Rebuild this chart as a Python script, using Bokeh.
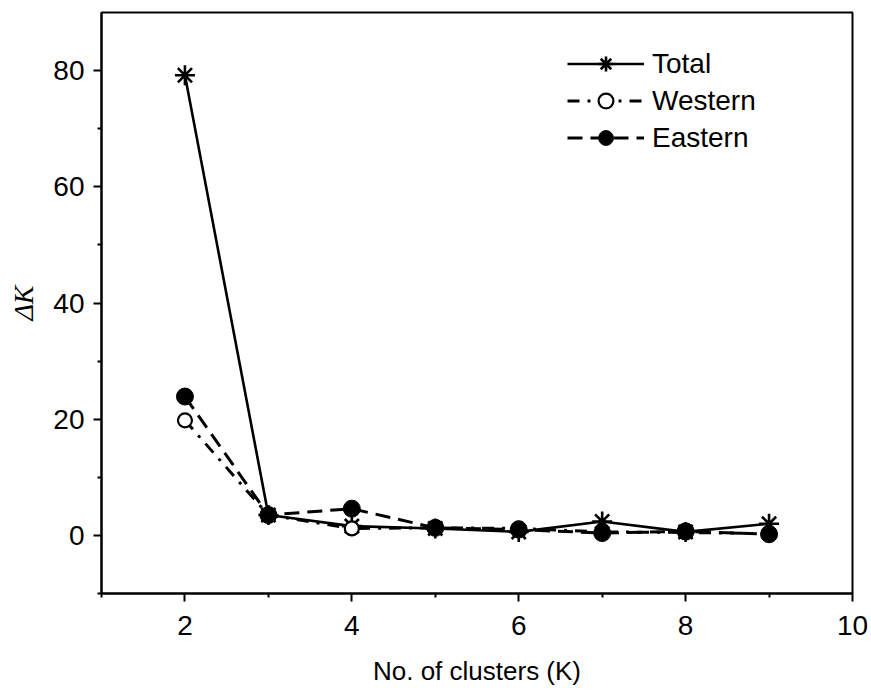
from bokeh.plotting import figure
from bokeh.models import FixedTicker, Range1d
from bokeh.embed import file_html
from bokeh.resources import INLINE

# Data
k_values = [2, 3, 4, 5, 6, 7, 8, 9]
total = [79.2, 3.5, 1.6, 1.2, 0.6, 2.4, 0.6, 2.0]
western = [19.8, 3.5, 1.2, 1.3, 1.2, 0.6, 0.5, 0.3]
eastern = [23.9, 3.5, 4.6, 1.3, 1.0, 0.4, 0.7, 0.2]

x_major = [2, 4, 6, 8, 10]
x_minor = [1, 3, 5, 7, 9]
y_major = [0, 20, 40, 60, 80]
y_minor = [-10, 10, 30, 50, 70]

FONT = "Liberation Sans"

p = figure(
    frame_width=751, frame_height=581,
    min_border_left=101, min_border_right=19, min_border_top=12, min_border_bottom=100,
    x_range=Range1d(1, 10), y_range=Range1d(-10, 90),
    output_backend="svg", toolbar_location=None,
    background_fill_color="white", border_fill_color="white",
)
p.xgrid.visible = False
p.ygrid.visible = False
p.outline_line_color = "black"
p.outline_line_width = 2

p.xaxis.ticker = FixedTicker(ticks=x_major, minor_ticks=x_minor)
p.yaxis.ticker = FixedTicker(ticks=y_major, minor_ticks=y_minor)

for ax in (p.xaxis, p.yaxis):
    ax.axis_line_width = 2
    ax.axis_line_color = "black"
    ax.major_tick_line_width = 2
    ax.minor_tick_line_width = 2
    ax.major_tick_line_color = "black"
    ax.minor_tick_line_color = "black"
    ax.major_tick_out = 8
    ax.major_tick_in = 0
    ax.minor_tick_out = 4
    ax.minor_tick_in = 0
    ax.major_label_text_font = FONT
    ax.major_label_text_font_size = "28px"
    ax.major_label_text_color = "black"

p.xaxis.major_label_standoff = 14
p.yaxis.major_label_standoff = 9

p.xaxis.axis_label = "No. of clusters (K)"
p.xaxis.axis_label_text_font = FONT
p.xaxis.axis_label_text_font_size = "26px"
p.xaxis.axis_label_text_font_style = "normal"
p.xaxis.axis_label_text_color = "black"
p.xaxis.axis_label_standoff = 18

p.yaxis.axis_label = "ΔK"
p.yaxis.axis_label_text_font = "Liberation Serif"
p.yaxis.axis_label_text_font_size = "28px"
p.yaxis.axis_label_text_font_style = "italic"
p.yaxis.axis_label_text_color = "black"
p.yaxis.axis_label_standoff = 11

# Total: solid line with asterisks
p.line(k_values, total, line_color="black", line_width=2.6, legend_label="Total")
p.scatter(k_values, total, marker="asterisk", size=20, line_color="black",
          line_width=2.6, legend_label="Total")

# Western: dash-dot line with open circles
p.line(k_values, western, line_color="black", line_width=3, line_dash="12 8 3 8",
       legend_label="Western")
p.scatter(k_values, western, marker="circle", size=14, line_color="black",
          fill_color="white", line_width=2.2, legend_label="Western")

# Eastern: dashed line with filled circles
p.line(k_values, eastern, line_color="black", line_width=3, line_dash="15 8",
       legend_label="Eastern")
p.scatter(k_values, eastern, marker="circle", size=17, line_color="black",
          fill_color="black", line_width=1, legend_label="Eastern")

lg = p.legend[0]
lg.location = (466, 437)
lg.border_line_color = None
lg.background_fill_alpha = 0
lg.padding = 0
lg.margin = 0
lg.spacing = 0
lg.glyph_width = 77
lg.glyph_height = 37
lg.label_height = 37
lg.label_standoff = 8
lg.label_text_font = FONT
lg.label_text_font_size = "28px"
lg.label_text_color = "black"

open("out.html", "w").write(file_html(p, INLINE))
